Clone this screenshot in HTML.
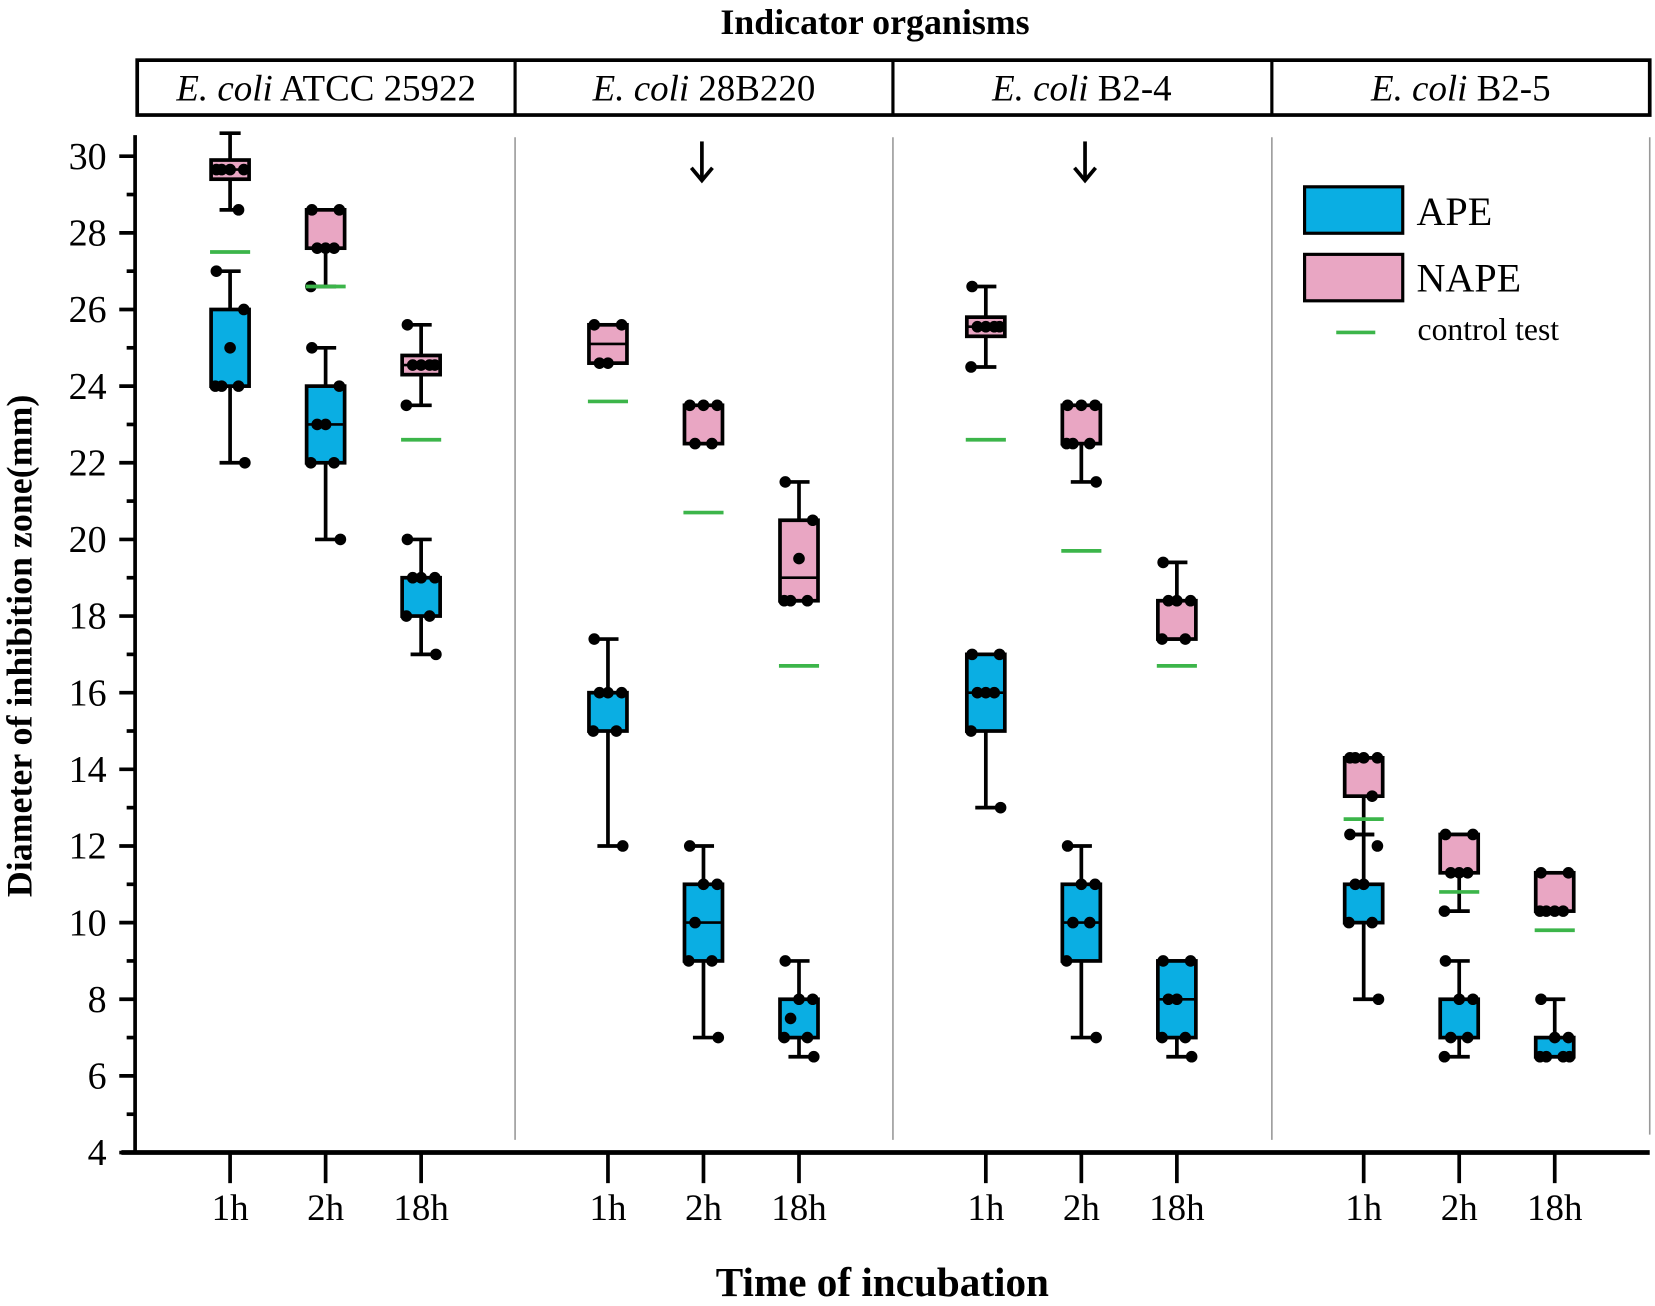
<!DOCTYPE html>
<html><head><meta charset="utf-8">
<style>
html,body{margin:0;padding:0;background:#fff;}
svg{display:block;font-family:"Liberation Serif",serif;}
</style></head>
<body>
<svg id="chart" width="1655" height="1306" viewBox="0 0 1568 1237.4" preserveAspectRatio="none" xmlns="http://www.w3.org/2000/svg">
<text x="829" y="32" text-anchor="middle" font-size="34" font-weight="bold">Indicator organisms</text>
<g>
<rect x="130" y="57" width="1433" height="52" fill="#fff" stroke="#000" stroke-width="3.5"/>
<line x1="488" y1="57" x2="488" y2="109" stroke="#000" stroke-width="3"/>
<line x1="846" y1="57" x2="846" y2="109" stroke="#000" stroke-width="3"/>
<line x1="1205" y1="57" x2="1205" y2="109" stroke="#000" stroke-width="3"/>
<text x="309" y="95" text-anchor="middle" font-size="35"><tspan font-style="italic">E. coli</tspan> ATCC 25922</text>
<text x="667" y="95" text-anchor="middle" font-size="35"><tspan font-style="italic">E. coli</tspan> 28B220</text>
<text x="1025" y="95" text-anchor="middle" font-size="35"><tspan font-style="italic">E. coli</tspan> B2-4</text>
<text x="1384" y="95" text-anchor="middle" font-size="35"><tspan font-style="italic">E. coli</tspan> B2-5</text>
</g>
<g stroke="#999" stroke-width="1.5">
<line x1="488" y1="130" x2="488" y2="1080"/>
<line x1="846" y1="130" x2="846" y2="1080"/>
<line x1="1205" y1="130" x2="1205" y2="1080"/>
<line x1="1563" y1="130" x2="1563" y2="1075"/>
</g>
<g stroke="#000" stroke-width="3.5" fill="none"><line x1="665" y1="134" x2="665" y2="170"/><polyline points="655,159 665,171 675,159"/></g>
<g stroke="#000" stroke-width="3.5" fill="none"><line x1="1028" y1="134" x2="1028" y2="170"/><polyline points="1018,159 1028,171 1038,159"/></g>
<g id="axes"></g>
<g id="marks"></g>
<g>
<rect x="1236" y="177" width="93" height="44" fill="#0aaee3" stroke="#000" stroke-width="3"/>
<text x="1342" y="213" font-size="38">APE</text>
<rect x="1236" y="241" width="93" height="44" fill="#e9a6c3" stroke="#000" stroke-width="3"/>
<text x="1342" y="276" font-size="38">NAPE</text>
<line x1="1266" y1="315" x2="1303" y2="315" stroke="#3cb54a" stroke-width="3.5"/>
<text x="1343" y="322" font-size="30">control test</text>
</g>
<text x="836" y="1228" text-anchor="middle" font-size="39" font-weight="bold">Time of incubation</text>
<text transform="translate(30,612) rotate(-90)" text-anchor="middle" font-size="34" font-weight="bold">Diameter of inhibition zone(mm)</text>
</svg>
<script>
const groups = ["ATCC 25922","28B220","B2-4","B2-5"];
const times = ["1h","2h","18h"];
const yTicks = [4,6,8,10,12,14,16,18,20,22,24,26,28,30];
const apeMin = [22,20,17, 12,7,6.5, 13,7,6.5, 8,6.5,6.5];
const apeQ1  = [24,22,18, 15,9,7, 15,9,7, 10,7,6.5];
const apeMed = [24,23,19, 16,10,7, 16,10,8, 10,7,6.5];
const apeQ3  = [26,24,19, 16,11,8, 17,11,9, 11,8,7];
const apeMax = [27,25,20, 17.4,12,9, 17,12,9, 12.3,9,8];
const apePts = [[27,26,25,24,24,24,22],[25,24,23,23,22,22,20],[20,19,19,19,18,18,17],
 [17.4,16,16,16,15,15,12],[12,11,11,10,9,9,7],[9,8,8,7.5,7,7,6.5],
 [17,17,16,16,16,15,13],[12,11,11,10,10,9,7],[9,9,8,8,7,7,6.5],
 [12.3,12,11,11,10,10,8],[9,8,8,7,7,6.5],[8,7,7,6.5,6.5,6.5,6.5]];
const napeMin = [28.6,26.6,23.5, 24.6,22.5,18.4, 24.5,21.5,17.4, 12.3,10.3,10.3];
const napeQ1  = [29.4,27.6,24.3, 24.6,22.5,18.4, 25.3,22.5,17.4, 13.3,11.3,10.3];
const napeMed = [29.65,27.6,24.55, 25.1,22.5,19, 25.55,22.5,17.4, 14.3,11.3,10.3];
const napeQ3  = [29.9,28.6,24.8, 25.6,23.5,20.5, 25.8,23.5,18.4, 14.3,12.3,11.3];
const napeMax = [30.6,28.6,25.6, 25.6,23.5,21.5, 26.6,23.5,19.4, 14.3,12.3,11.3];
const napePts = [[29.65,29.65,29.65,29.65,28.6],[28.6,28.6,27.6,27.6,27.6,26.6],[25.6,24.55,24.55,24.55,24.55,23.5],
 [25.6,25.6,24.6,24.6],[23.5,23.5,23.5,22.5,22.5],[21.5,20.5,19.5,18.4,18.4,18.4],
 [26.6,25.55,25.55,25.55,25.55,24.5],[23.5,23.5,23.5,22.5,22.5,22.5,21.5],[19.4,18.4,18.4,18.4,17.4,17.4],
 [14.3,14.3,14.3,14.3,13.3],[12.3,12.3,11.3,11.3,11.3,10.3],[11.3,11.3,10.3,10.3,10.3,10.3]];
const controls = [27.5,26.6,22.6, 23.6,20.7,16.7, 22.6,19.7,16.7, 12.7,10.8,9.8];

const NS="http://www.w3.org/2000/svg";
const Y0=1092, Y1=148, V0=4, V1=30;
function y(v){return Y0-(v-V0)*(Y0-Y1)/(V1-V0);}
function x(g,t){return 218+g*358+t*90.5;}
function mk(tag,attrs,parent){const e=document.createElementNS(NS,tag);for(const k in attrs)e.setAttribute(k,attrs[k]);parent.appendChild(e);return e;}
const axes=document.getElementById('axes'), marks=document.getElementById('marks');
let e=mk('line',{x1:128,y1:128,x2:128,y2:Y0,stroke:'#000','stroke-width':3.5},axes);


e=mk('line',{x1:115,y1:Y0,x2:1563,y2:Y0,stroke:'#000','stroke-width':4.5},axes);


yTicks.forEach(v=>{
  let t=mk('line',{x1:113,y1:y(v),x2:128,y2:y(v),stroke:'#000','stroke-width':3.5},axes);
  
  
  if(v<30){let m=mk('line',{x1:120,y1:y(v+1),x2:128,y2:y(v+1),stroke:'#000','stroke-width':3.5},axes);
  
  }
  let l=mk('text',{x:101,y:y(v)+12,'text-anchor':'end','font-size':36},axes);
  l.textContent=v;
  
  
});
groups.forEach((g,gi)=>times.forEach((tm,ti)=>{
  const cx=x(gi,ti);
  let t=mk('line',{x1:cx,y1:Y0,x2:cx,y2:1121,stroke:'#000','stroke-width':3.5},axes);
  
  
  let l=mk('text',{x:cx,y:1156,'text-anchor':'middle','font-size':35},axes);
  l.textContent=tm;
  
  
}));
const offs=[-13,13,0,-8,8,-14,14];
function box(cx,i,mn,q1,md,q3,mx,pts,fill,name){
  const g=mk('g',{},marks);
  
  
  const hw=18;
  mk('line',{x1:cx,y1:y(mx),x2:cx,y2:y(mn),stroke:'#000','stroke-width':3.5},g);
  mk('line',{x1:cx-10,y1:y(mx),x2:cx+10,y2:y(mx),stroke:'#000','stroke-width':3.5},g);
  mk('line',{x1:cx-10,y1:y(mn),x2:cx+10,y2:y(mn),stroke:'#000','stroke-width':3.5},g);
  const h=Math.max(y(q1)-y(q3),2);
  mk('rect',{x:cx-hw,y:y(q3),width:hw*2,height:h,fill:fill,stroke:'#000','stroke-width':3.5},g);
  mk('line',{x1:cx-hw,y1:y(md),x2:cx+hw,y2:y(md),stroke:'#000','stroke-width':2.5},g);
  pts.forEach((p,k)=>{mk('circle',{cx:cx+offs[k%offs.length],cy:y(p),r:5.5,fill:'#000'},g);});
}
for(let i=0;i<12;i++){
  const gi=Math.floor(i/3), ti=i%3, cx=x(gi,ti);
  box(cx,i,apeMin[i],apeQ1[i],apeMed[i],apeQ3[i],apeMax[i],apePts[i],'#0aaee3','ape-box');
  box(cx,i,napeMin[i],napeQ1[i],napeMed[i],napeQ3[i],napeMax[i],napePts[i],'#e9a6c3','nape-box');
  let c=mk('line',{x1:cx-19,y1:y(controls[i]),x2:cx+19,y2:y(controls[i]),stroke:'#3cb54a','stroke-width':3.5},marks);
  
  
}
</script>
</body></html>
